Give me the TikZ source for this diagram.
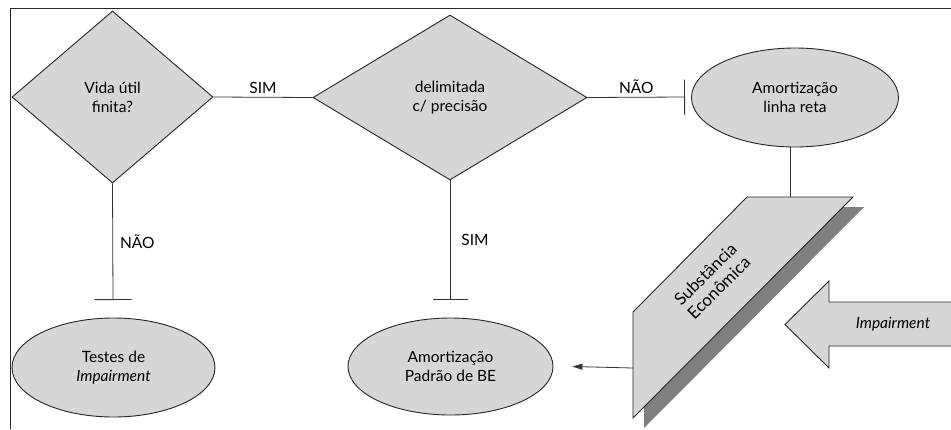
\documentclass[tikz,border=0pt]{standalone}
\usepackage{fontspec}
\setmainfont{Lato}
\usetikzlibrary{shapes.geometric,arrows.meta}
\begin{document}
\begin{tikzpicture}[x=1pt,y=-1pt,
  every node/.style={font=\fontsize{15.5}{19}\selectfont},
  shaded/.style={fill=black!16, draw=black!85, line width=0.9pt},
  dia/.style={shaded, diamond, inner sep=0pt, align=center},
  ell/.style={shaded, ellipse, inner sep=0pt, align=center},
  conn/.style={draw=black!80, line width=0.8pt},
  barend/.style={-{Bar[width=#1, line width=0.9pt]}}]
\useasboundingbox (0,0) rectangle (951,429);
\fill[white] (0,0) rectangle (951,429);
% frame
\draw[line width=1pt, black!85] (10,429) -- (10,8) -- (951,8);

% nodes
\node[dia, minimum width=201pt, minimum height=172pt] (d1) at (112.5,97) {Vida útil\\finita?};
\node[dia, minimum width=274pt, minimum height=165pt] (d2) at (450,97.5) {delimitada\\c/ precisão};
\node[ell, minimum width=207pt, minimum height=99pt] (e1) at (795,97.5) {Amortização\\linha reta};
\node[ell, minimum width=203pt, minimum height=99pt] (e2) at (113.5,367.5) {Testes de\\\textit{Impairment}};
\node[ell, minimum width=205pt, minimum height=97pt] (e3) at (450.5,366.5) {Amortização\\Padrão de BE};

% bar ends
\coordinate (b1) at (685,97);
\coordinate (b2) at (113,300);
\coordinate (b3) at (450,300);

% connectors
\draw[conn] (d1.east) -- node[above, inner sep=3pt]{SIM} (d2.west);
\draw[conn, barend=35pt] (d2.east) -- node[above, inner sep=3pt]{NÃO} (b1);
\draw[conn, barend=37pt] (d1.south) -- node[right, inner sep=7pt]{NÃO} (b2);
\draw[conn, barend=35pt] (d2.south) -- node[right, inner sep=11pt]{SIM} (b3);

% substancia economica shape
\coordinate (s1) at (747,197);
\coordinate (s2) at (853,197);
\coordinate (s3) at (633,418);
\coordinate (s4) at (633,312);
\begin{scope}[shift={(11,10)}]
  \fill[black!50] (747,197) -- (853,197) -- (633,418) -- (633,312) -- cycle;
\end{scope}
\filldraw[shaded] (s1) -- (s2) -- (s3) -- (s4) -- cycle;
\node[rotate=45, align=center, font=\fontsize{17}{19}\selectfont] (st) at (712,281) {Substância\\Econômica};

\coordinate (stop) at (790,197);
\draw[conn] (e1.south -| stop) -- (stop);
\coordinate (sl) at (633,368);
\draw[conn, -{Triangle[length=10pt,width=6pt]}] (sl) -- ([xshift=19pt]e3.east);

% impairment arrow
\filldraw[shaded] (958,302) -- (829,302) -- (829,281) -- (785,324.5) -- (829,368) -- (829,346) -- (958,346);
\node[font=\fontsize{15.5}{19}\selectfont\itshape] (imp) at (893,324) {Impairment};
\end{tikzpicture}
\end{document}
